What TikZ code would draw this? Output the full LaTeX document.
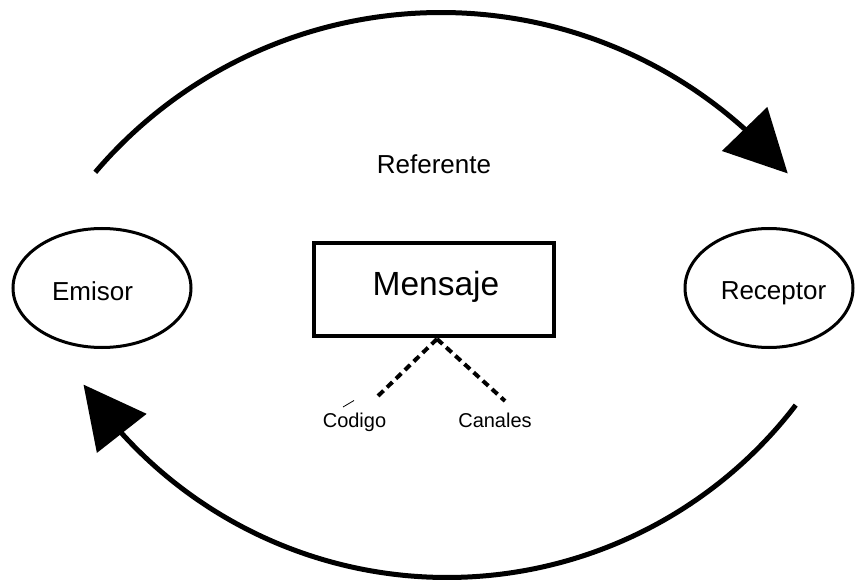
\documentclass[tikz,border=0pt]{standalone}
\usepackage{fontspec}
\setmainfont{Liberation Sans}
\usetikzlibrary{arrows.meta,bending,calc,shapes.geometric}
\begin{document}
\begin{tikzpicture}[x=1pt,y=-1pt,
  flow/.style={line width=5pt,-{Triangle[length=62pt,width=62pt,flex]}},
  party/.style={draw,line width=3pt,ellipse,inner sep=0pt,minimum width=178pt,minimum height=119pt},
  msgbox/.style={draw,line width=4pt,rectangle,inner sep=0pt,minimum width=240pt,minimum height=93pt},
  link/.style={line width=4pt,dash pattern=on 7.5pt off 4.9pt},
  lbl/.style={inner sep=0pt,anchor=base},
  big/.style={font=\fontsize{26}{30}\selectfont},
  small/.style={font=\fontsize{20}{24}\selectfont}]
\useasboundingbox (0,0) rectangle (855,583);

% participants and message
\node[party] (emisorring) at (102,288) {};
\node[party,minimum width=168pt] (receptorring) at (769,288) {};
\node[msgbox] (mensajebox) at (434,289.5) {};

\node[lbl,big] (emisor) at (92.5,300) {Emisor};
\node[lbl,big] (receptor) at (773.5,299) {Receptor};
\node[lbl,big] (referente) at (434,174) {Referente};
\node[lbl,font=\fontsize{33.5}{40}\selectfont] (mensaje) at (436,295) {Mensaje};
\node[lbl,small] (codigo) at (354.5,427) {Codigo};
\node[lbl,small] (canales) at (495,427) {Canales};

% upper arc: sender to receiver
\coordinate (topc) at (441,466.5);
\coordinate (topstart) at ($(topc)+(-139.6:454)$);
\draw[flow] (topstart) arc[start angle=-139.6,end angle=-40.2,radius=454];

% lower arc: receiver back to sender
\coordinate (botc) at (447,138.5);
\coordinate (botstart) at ($(botc)+(37.4:439)$);
\draw[flow] (botstart) arc[start angle=37.4,end angle=145.9,radius=439];

% code and channel links
\coordinate (split) at (437,339);
\coordinate (codend) at (378,396);
\coordinate (canend) at (505,401);
\draw[link] (split) -- (codend);
\draw[link] (split) -- (canend);

% stray accent stroke over the code label
\coordinate (acc1) at (343,407);
\coordinate (acc2) at (354,400.5);
\draw[line width=0.8pt] (acc1) -- (acc2);
\end{tikzpicture}
\end{document}
